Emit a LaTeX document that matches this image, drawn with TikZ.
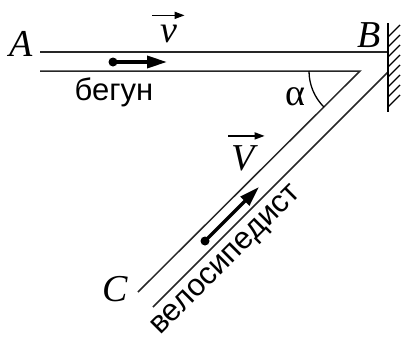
\documentclass[tikz,border=0pt]{standalone}
\usepackage{amsmath}
\usepackage{fontspec}
\setmainfont{Liberation Serif}
\newfontfamily\sansru{Liberation Sans}
\usetikzlibrary{arrows.meta}

\tikzset{
	track/.style={line width=1.5pt, black!85},
	vecarrow/.style={line width=1.5pt, -{Triangle[length=10pt, width=7pt]}},
	ru/.style={font=\sansru\fontsize{31}{36}\selectfont}
}

\begin{document}
\begin{tikzpicture}[x=1pt, y=-1pt, every node/.style={font=\fontsize{38}{42}\selectfont, inner sep=0pt}, >={Triangle[length=20pt, width=12pt]}]
	\useasboundingbox (0,0) rectangle (401,340);
	% track points
	\coordinate (A1) at (40,52);
	\coordinate (B1) at (388,52);
	\coordinate (A2) at (40,71);
	\coordinate (tip) at (360,71);
	\coordinate (C1) at (138,292);
	\coordinate (W) at (388,72);
	\coordinate (C2) at (153,307);
	\draw[track] (A1) -- (B1);
	\draw[track] (A2) -- (tip) -- (C1);
	\draw[track] (W) -- (C2);
	% wall at B
	\draw[line width=2.5pt] (388,23) -- (388,112);
	\foreach \y in {37,47,...,107}
		\draw[line width=1.4pt] (388,\y) -- (400,{\y-12});
	% angle alpha
	\draw[line width=1.3pt] (tip) ++(180:51) arc[start angle=180, end angle=135, radius=51];
	\node (alpha) at (295,97) {α};
	% labels of the points
	\node (labA) at (21,44) {\textit{A}};
	\node (labB) at (369,35) {\textit{B}};
	\node (labC) at (115,289) {\textit{C}};
	% runner
	\coordinate (r0) at (113,62);
	\coordinate (r1) at (167,62);
	\fill (r0) circle (4.5);
	\draw[->, line width=3.5pt] (r0) -- (r1);
	\node[anchor=base] (labv) at (169,42) {\textit{v}};
	\draw[vecarrow] ([xshift=-8pt, yshift=9pt]labv.north west) -- ([xshift=7pt, yshift=9pt]labv.north east);
	\node[anchor=base, ru] (runner) at (114,100) {бегун};
	% cyclist
	\coordinate (c0) at (205,241);
	\coordinate (c1) at (259,187);
	\fill (c0) circle (4.5);
	\draw[->, line width=3.5pt] (c0) -- (c1);
	\node[anchor=base] (labV) at (245,170) {\textit{V}};
	\draw[vecarrow] ([xshift=-3pt, yshift=9pt]labV.north west) -- ([xshift=6pt, yshift=9pt]labV.north east);
	\node[anchor=base, rotate=45, ru] (cyclist) at (231,265) {велосипедист};
\end{tikzpicture}
\end{document}
